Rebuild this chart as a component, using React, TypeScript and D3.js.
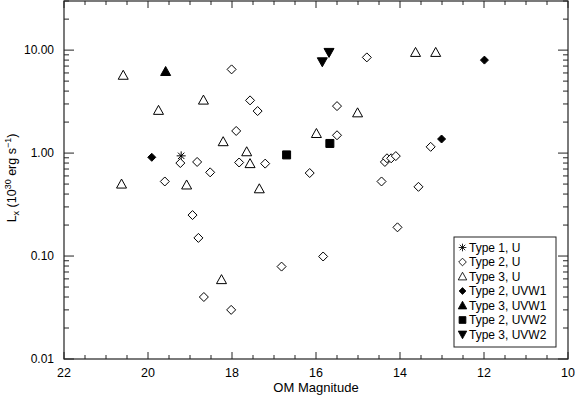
import React from "react";
import * as d3 from "d3";

// OM magnitude vs X-ray luminosity (10^30 erg/s)
const type1U = [[19.21, 0.94]];
const type2U = [
  [19.23, 0.8], [18.83, 0.82], [19.6, 0.53], [18.52, 0.65], [18.94, 0.25],
  [18.8, 0.15], [18.67, 0.04], [18.02, 0.03], [18.01, 6.5], [17.57, 3.25],
  [17.39, 2.56], [17.9, 1.64], [17.83, 0.81], [17.21, 0.79], [16.15, 0.64],
  [15.5, 2.86], [15.5, 1.49], [14.79, 8.5], [14.44, 0.53], [14.36, 0.82],
  [14.31, 0.89], [14.21, 0.89], [14.1, 0.935], [13.27, 1.15], [13.56, 0.47],
  [16.82, 0.079], [15.83, 0.099], [14.06, 0.19],
];
const type3U = [
  [20.59, 5.7], [19.75, 2.6], [20.63, 0.5], [19.08, 0.49], [18.68, 3.27],
  [18.21, 1.29], [17.65, 1.03], [17.57, 0.79], [17.35, 0.45], [15.99, 1.55],
  [15.01, 2.46], [18.25, 0.059], [13.63, 9.5], [13.15, 9.5],
];
const type2UVW1 = [[19.91, 0.91], [11.99, 8.0], [13.01, 1.37]];
const type3UVW1 = [[19.58, 6.2]];
const type2UVW2 = [[16.7, 0.96], [15.67, 1.24]];
const type3UVW2 = [[15.69, 9.5], [15.85, 7.7]];

const xMajor = [22, 20, 18, 16, 14, 12, 10];
const yMajor = [0.01, 0.1, 1, 10];
const yLabels = ["0.01", "0.10", "1.00", "10.00"];

const font = "'Liberation Sans', Arial, Helvetica, sans-serif";
const ink = "#222";

// marker shapes, centred on 0,0
const shapes: Record<string, { d: string; fill: string }> = {
  star: { d: "M0,-4.5V4.5M-4.5,0H4.5M-3.2,-3.2L3.2,3.2M-3.2,3.2L3.2,-3.2", fill: "none" },
  diamond: { d: "M0,-4.5L4.5,0L0,4.5L-4.5,0Z", fill: "white" },
  tri: { d: "M0,-5L5,4L-5,4Z", fill: "white" },
  fdiamond: { d: "M0,-4L4,0L0,4L-4,0Z", fill: "black" },
  ftri: { d: "M0,-5L5,4L-5,4Z", fill: "black" },
  fsquare: { d: "M-4,-4H4V4H-4Z", fill: "black" },
  fdown: { d: "M0,5L5,-4L-5,-4Z", fill: "black" },
};

const series = [
  { name: "Type 1, U", shape: "star", data: type1U },
  { name: "Type 2, U", shape: "diamond", data: type2U },
  { name: "Type 3, U", shape: "tri", data: type3U },
  { name: "Type 2, UVW1", shape: "fdiamond", data: type2UVW1 },
  { name: "Type 3, UVW1", shape: "ftri", data: type3UVW1 },
  { name: "Type 2, UVW2", shape: "fsquare", data: type2UVW2 },
  { name: "Type 3, UVW2", shape: "fdown", data: type3UVW2 },
];

function Marker({ shape, x, y, scale = 1 }: { shape: string; x: number; y: number; scale?: number }) {
  const s = shapes[shape];
  return (
    <path
      d={s.d}
      transform={`translate(${x},${y}) scale(${scale})`}
      fill={s.fill}
      stroke="black"
      strokeWidth={1}
    />
  );
}

export default function App() {
  const width = 575;
  const height = 396;
  const left = 64, right = 568, top = 1, bottom = 359;

  const x = d3.scaleLinear().domain([22, 10]).range([left, right]);
  const y = d3.scaleLog().domain([0.01, 30]).range([bottom, top]);

  const xMinor = d3.range(22, 9.99, -0.5).filter((v) => !xMajor.includes(v));
  const yMinor: number[] = [];
  for (const dec of [0.01, 0.1, 1, 10]) {
    for (let k = 2; k <= 9; k++) {
      const v = dec * k;
      if (v <= 30) yMinor.push(v);
    }
  }

  const legendX = 454, legendY = 237, legendW = 102, legendH = 110, rowH = 14.5;

  return (
    <svg width={width} height={height} style={{ position: "absolute", left: 0, top: 0 }} fontFamily={font}>
      <rect width={width} height={height} fill="white" />
      {/* frame */}
      <rect x={left} y={top} width={right - left} height={bottom - top} fill="none" stroke={ink} strokeWidth={1.2} />
      {/* x ticks bottom and top */}
      {xMajor.map((v) => (
        <g key={"xm" + v}>
          <line x1={x(v)} x2={x(v)} y1={bottom} y2={bottom - 7} stroke={ink} />
          <line x1={x(v)} x2={x(v)} y1={top} y2={top + 7} stroke={ink} />
          <text x={x(v)} y={376.5} textAnchor="middle" fontSize={12.5}>{v}</text>
        </g>
      ))}
      {xMinor.map((v) => (
        <g key={"xn" + v}>
          <line x1={x(v)} x2={x(v)} y1={bottom} y2={bottom - 4} stroke={ink} />
          <line x1={x(v)} x2={x(v)} y1={top} y2={top + 4} stroke={ink} />
        </g>
      ))}
      {/* y ticks left and right */}
      {yMajor.map((v, i) => (
        <g key={"ym" + v}>
          <line x1={left} x2={left + 10} y1={y(v)} y2={y(v)} stroke={ink} />
          <line x1={right} x2={right - 10} y1={y(v)} y2={y(v)} stroke={ink} />
          <text x={54} y={y(v)} dy="0.36em" textAnchor="end" fontSize={12}>{yLabels[i]}</text>
        </g>
      ))}
      {yMinor.map((v) => (
        <g key={"yn" + v}>
          <line x1={left} x2={left + 5} y1={y(v)} y2={y(v)} stroke={ink} />
          <line x1={right} x2={right - 5} y1={y(v)} y2={y(v)} stroke={ink} />
        </g>
      ))}
      {/* axis titles */}
      <text x={316} y={392} textAnchor="middle" fontSize={13}>OM Magnitude</text>
      <text transform="translate(16,178) rotate(-90)" textAnchor="middle" fontSize={12.5}>
        L<tspan fontSize={9} dy={3}>x</tspan>
        <tspan dy={-3}> (10</tspan>
        <tspan fontSize={9} dy={-5}>30</tspan>
        <tspan dy={5}> erg s</tspan>
        <tspan fontSize={9} dy={-5}>−1</tspan>
        <tspan dy={5}>)</tspan>
      </text>
      {/* points */}
      {series.map((s) =>
        s.data.map((d, i) => <Marker key={s.name + i} shape={s.shape} x={x(d[0])} y={y(d[1])} />)
      )}
      {/* legend */}
      <rect x={legendX} y={legendY} width={legendW} height={legendH} fill="white" stroke={ink} strokeWidth={1} />
      {series.map((s, i) => {
        const cy = legendY + 10.5 + i * rowH;
        return (
          <g key={"lg" + s.name}>
            <Marker shape={s.shape} x={legendX + 8.5} y={cy} scale={0.85} />
            <text x={legendX + 15} y={cy} dy="0.36em" fontSize={12}>{s.name}</text>
          </g>
        );
      })}
    </svg>
  );
}
